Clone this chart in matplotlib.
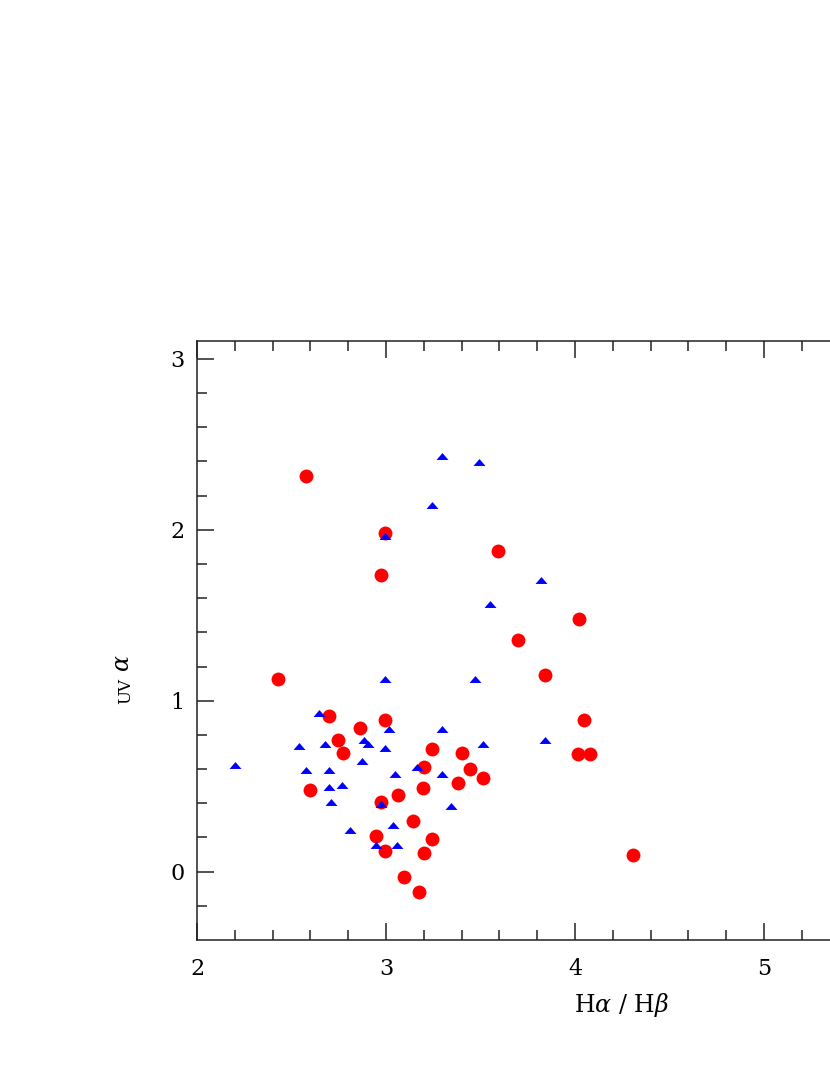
import numpy as np
import matplotlib
matplotlib.use("Agg")
import matplotlib.pyplot as plt

# Halpha/Hbeta vs alpha_UV, two samples
red_x = np.array([2.427, 2.577, 2.596, 2.697, 2.746, 2.774, 2.864, 2.947, 2.974,
                  2.975, 2.995, 2.995, 2.996, 3.063, 3.094, 3.144, 3.173, 3.194,
                  3.203, 3.203, 3.245, 3.245, 3.383, 3.402, 3.443, 3.512, 3.591,
                  3.700, 3.840, 4.020, 4.049, 4.018, 4.079, 4.307])
red_y = np.array([1.129, 2.317, 0.480, 0.908, 0.768, 0.697, 0.838, 0.209, 1.733,
                  0.407, 1.984, 0.889, 0.119, 0.448, -0.029, 0.298, -0.121, 0.487,
                  0.610, 0.109, 0.717, 0.189, 0.518, 0.697, 0.598, 0.547, 1.879,
                  1.357, 1.148, 1.478, 0.889, 0.688, 0.688, 0.098])

blue_x = np.array([2.199, 2.538, 2.577, 2.646, 2.676, 2.697, 2.697, 2.707, 2.766,
                   2.810, 2.882, 2.906, 2.875, 2.946, 2.975, 2.995, 2.995, 2.995,
                   3.014, 3.035, 3.046, 3.057, 3.162, 3.245, 3.295, 3.295, 3.295,
                   3.344, 3.471, 3.490, 3.512, 3.552, 3.820, 3.840])
blue_y = np.array([0.624, 0.734, 0.592, 0.926, 0.746, 0.592, 0.495, 0.405, 0.507,
                   0.246, 0.773, 0.746, 0.645, 0.156, 0.396, 0.726, 1.127, 1.966,
                   0.836, 0.275, 0.574, 0.156, 0.614, 2.146, 2.430, 0.834, 0.574,
                   0.384, 1.127, 2.399, 0.747, 1.567, 1.708, 0.768])

x_ticks = [2, 3, 4, 5]
y_ticks = [0, 1, 2, 3]
x_lim = (2.0, 5.5)
y_lim = (-0.4, 3.105)

plt.rcParams['font.family'] = ['DejaVu Serif']
plt.rcParams['mathtext.fontset'] = 'dejavuserif'

W, H = 830, 1075
fig = plt.figure(figsize=(W / 100, H / 100), dpi=100)

# box: left 197px, bottom 940px, top 341px; 189 px per x unit (right side runs off the page)
left, right_px, top, bottom = 197, 197 + (x_lim[1] - x_lim[0]) * 189, 341, 940
ax = fig.add_axes([left / W, 1 - bottom / H, (right_px - left) / W, (bottom - top) / H])

tri = [(-1, -0.58), (1, -0.58), (0, 0.58)]
ax.plot(red_x, red_y, 'o', color='#ff0000', markersize=10, markeredgewidth=0, zorder=2)
ax.plot(blue_x, blue_y, linestyle='none', marker=tri, color='#0000ff',
        markersize=8.6, markeredgewidth=0, zorder=3)

ax.set_xlim(*x_lim)
ax.set_ylim(*y_lim)
ax.set_xticks(x_ticks)
ax.set_yticks(y_ticks)
ax.set_xticks(np.arange(2.2, 5.5, 0.2), minor=True)
ax.set_yticks(np.arange(-0.2, 3.1, 0.2), minor=True)

for s in ax.spines.values():
    s.set_linewidth(1.1)
    s.set_color('#222222')
ax.tick_params(which='both', direction='in', top=True, right=True, color='#222222', width=1.1)
ax.tick_params(which='major', length=12, labelsize=16)
ax.tick_params(which='minor', length=7)
ax.tick_params(axis='x', pad=13)
ax.tick_params(axis='y', pad=9)

ax.set_xlabel(r'H$\alpha$ / H$\beta$', fontsize=17, va='center')
ax.xaxis.set_label_coords((621 - left) / (right_px - left), -(1005 - bottom) / (bottom - top))

# y label: alpha above, "UV" below it, both turned
fig.text(122 / W, 1 - 663 / H, r'$\alpha$', fontsize=17, rotation=90, ha='center', va='center')
fig.text(126 / W, 1 - 691 / H, 'UV', fontsize=12, rotation=90, ha='center', va='center')

fig.savefig('out.png', dpi=100)
